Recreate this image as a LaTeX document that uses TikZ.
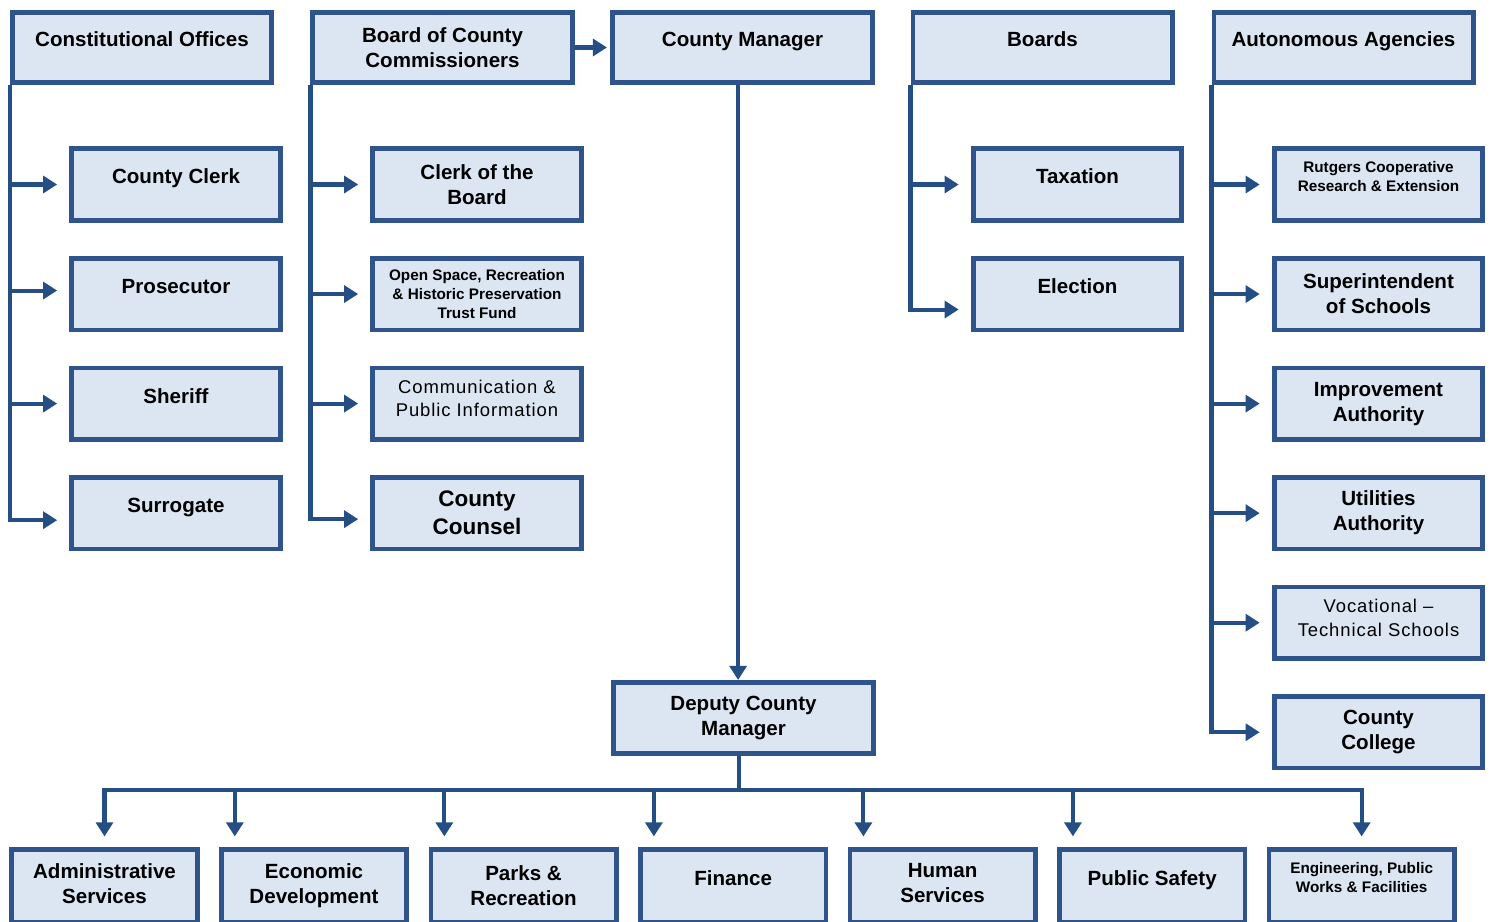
\documentclass[tikz,border=0pt]{standalone}
\usepackage{fontspec}
\setmainfont{Liberation Sans}
\newfontfamily\spacedfont[LetterSpace=5]{Liberation Sans}
\usetikzlibrary{positioning, arrows.meta}
\definecolor{boxfill}{RGB}{220,230,242}
\definecolor{boxline}{RGB}{47,84,140}
\definecolor{wire}{RGB}{37,79,132}

\begin{document}
\begin{tikzpicture}[
    x=0.02cm, y=-0.02cm,
    head/.style={draw=boxline, fill=boxfill, line width=2.6pt,
      minimum width=5.19cm, minimum height=1.41cm, align=center,
      font=\bfseries\fontsize{11.7pt}{14.2pt}\selectfont, text=black},
    unit/.style={head, minimum width=4.17cm, minimum height=1.43cm},
    dept/.style={head, minimum width=3.71cm, minimum height=1.47cm},
    one/.style={text height=8pt, text depth=8.6pt},
    lift/.style={text depth=#1},
    tiny/.style={font=\bfseries\fontsize{8.7pt}{10.6pt}\selectfont},
    wide/.style={font=\spacedfont\fontsize{10.5pt}{13.6pt}\selectfont},
    large/.style={font=\bfseries\fontsize{12.8pt}{16pt}\selectfont},
    link/.style={draw=wire, line width=2.3pt},
    arr/.style={link, -{Triangle[length=8pt, width=9.6pt]}, shorten >=7pt},
    node distance=0.67cm,
  ]
    \useasboundingbox (0,0) rectangle (1494,921);

    % top row
    \node[head, one] (co) at (142,47.5) {Constitutional Offices};
    \node[head] (bcc) at (442.5,47.5) {Board of County\\Commissioners};
    \node[head, one] (cm) at (742.5,47.5) {County Manager};
    \node[head, one] (boards) at (1042.5,47.5) {Boards};
    \node[head, one] (auto) at (1343.5,47.5) {Autonomous Agencies};

    % constitutional offices
    \node[unit, one] (clerk) at (176,184.5) {County Clerk};
    \node[unit, one, below=of clerk] (pros) {Prosecutor};
    \node[unit, one, below=of pros] (sheriff) {Sheriff};
    \node[unit, one, below=of sheriff] (surr) {Surrogate};

    % board of county commissioners
    \node[unit] (cob) at (477,184.5) {Clerk of the\\Board};
    \node[unit, tiny, below=of cob] (osr) {Open Space, Recreation\\\& Historic Preservation\\Trust Fund};
    \node[unit, wide, lift=6pt, below=of osr] (cpi) {Communication \&\\Public Information};
    \node[unit, large, below=of cpi] (counsel) {County\\Counsel};

    % boards
    \node[unit, one] (tax) at (1077.5,184.5) {Taxation};
    \node[unit, one, below=of tax] (elect) {Election};

    % autonomous agencies
    \node[unit, tiny, lift=9pt] (rutgers) at (1378.5,184.5) {Rutgers Cooperative\\Research \& Extension};
    \node[unit, below=of rutgers] (supt) {Superintendent\\of Schools};
    \node[unit, below=of supt] (impr) {Improvement\\Authority};
    \node[unit, below=of impr] (util) {Utilities\\Authority};
    \node[unit, wide, lift=5.6pt, below=of util] (voc) {Vocational –\\Technical Schools};
    \node[unit, below=of voc] (college) {County\\College};

    % deputy and departments
    \node[head, minimum height=1.43cm] (dep) at (743.5,718) {Deputy County\\Manager};
    \node[dept, lift=3pt] (admin) at (104.5,886) {Administrative\\Services};
    \node[dept, right=0.39cm of admin] (eco) {Economic\\Development};
    \node[dept, right=0.39cm of eco] (parks) {Parks \&\\Recreation};
    \node[dept, one, right=0.39cm of parks] (fin) {Finance};
    \node[dept, lift=3pt, right=0.39cm of fin] (human) {Human\\Services};
    \node[dept, one, right=0.39cm of human] (safety) {Public Safety};
    \node[dept, tiny, lift=10pt, right=0.39cm of safety] (eng) {Engineering, Public\\Works \& Facilities};

    \coordinate (bus) at (738,790);

    % connectors
    \draw[arr, shorten >=2pt] (bcc.east) -- (cm.west);
    \draw[arr] (co.south west) |- (clerk.west);
    \draw[arr] (co.south west) |- ([yshift=2pt]pros.west);
    \draw[arr] (co.south west) |- (sheriff.west);
    \draw[arr] (co.south west) |- ([yshift=-4pt]surr.west);
    \draw[arr] (bcc.south west) |- (cob.west);
    \draw[arr] (bcc.south west) |- (osr.west);
    \draw[arr] (bcc.south west) |- (cpi.west);
    \draw[arr] (bcc.south west) |- ([yshift=-3.4pt]counsel.west);
    \draw[arr] (boards.south west) |- (tax.west);
    \draw[arr] (boards.south west) |- ([yshift=-8.8pt]elect.west);
    \draw[arr] (auto.south west) |- (rutgers.west);
    \draw[arr] (auto.south west) |- (supt.west);
    \draw[arr] (auto.south west) |- (impr.west);
    \draw[arr] (auto.south west) |- (util.west);
    \draw[arr] (auto.south west) |- (voc.west);
    \draw[arr] (auto.south west) |- (college.west);
    \draw[arr, shorten >=0pt] ([xshift=-2.5pt]cm.south) -- ([xshift=-2.5pt]cm.south |- dep.north);
    \draw[link] ([xshift=-2.5pt]dep.south) -- ([xshift=-2.5pt]dep.south |- bus);
    \draw[link] ([xshift=-1.15pt]admin.north |- bus) -- ([xshift=1.15pt]eng.north |- bus);
    \draw[arr, shorten >=6pt] (admin.north |- bus) -- (admin.north);
    \draw[arr, shorten >=6pt] ([xshift=9pt]eco.north west |- bus) -- ([xshift=9pt]eco.north west);
    \draw[arr, shorten >=6pt] ([xshift=9pt]parks.north west |- bus) -- ([xshift=9pt]parks.north west);
    \draw[arr, shorten >=6pt] ([xshift=9pt]fin.north west |- bus) -- ([xshift=9pt]fin.north west);
    \draw[arr, shorten >=6pt] ([xshift=9pt]human.north west |- bus) -- ([xshift=9pt]human.north west);
    \draw[arr, shorten >=6pt] ([xshift=9pt]safety.north west |- bus) -- ([xshift=9pt]safety.north west);
    \draw[arr, shorten >=6pt] (eng.north |- bus) -- (eng.north);
  \end{tikzpicture}
\end{document}
